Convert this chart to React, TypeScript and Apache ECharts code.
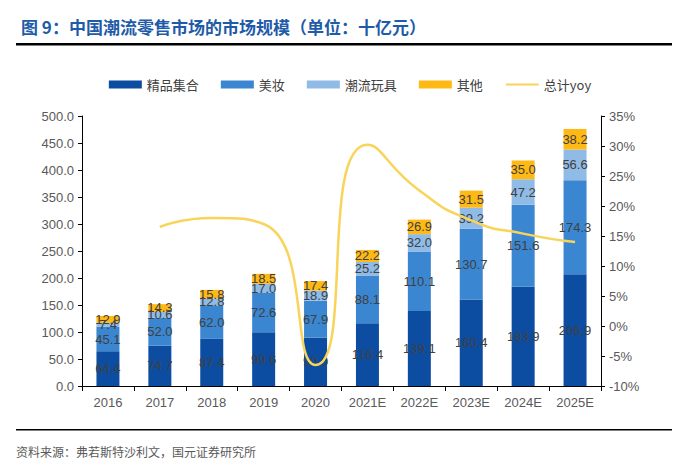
import React, { useEffect, useRef } from "react";
import * as echarts from "echarts";

const categories = ["2016", "2017", "2018", "2019", "2020", "2021E", "2022E", "2023E", "2024E", "2025E"];
const boutique = [64.4, 74.7, 87.4, 99.6, 90.0, 116.4, 139.1, 160.4, 183.9, 206.9];
const beauty = [45.1, 52.0, 62.0, 72.6, 67.9, 88.1, 110.1, 130.7, 151.6, 174.3];
const toys = [7.4, 10.6, 12.8, 17.0, 18.9, 25.2, 32.0, 39.2, 47.2, 56.6];
const others = [12.9, 14.3, 15.8, 18.5, 17.4, 22.2, 26.9, 31.5, 35.0, 38.2];
const yoy = [null, 16.5, 18.0, 17.0, -6.5, 30.2, 22.6, 17.6, 15.4, 14.0];

const labelColor = "#404040";

export default function App() {
  const ref = useRef<HTMLDivElement>(null);
  useEffect(() => {
    document.body.style.margin = "0";
    const chart = echarts.init(ref.current!, null, { renderer: "svg" });
    const barLabel = {
      show: true,
      position: "inside" as const,
      color: labelColor,
      fontSize: 13,
      fontFamily: "Arial, Liberation Sans, sans-serif",
      formatter: (p: any) => Number(p.value).toFixed(1),
    };
    const mkBar = (name: string, data: number[], color: string) => ({
      name,
      type: "bar",
      stack: "total",
      data,
      barWidth: 23,
      itemStyle: { color },
      label: barLabel,
    });
    chart.setOption({
      animation: false,
      backgroundColor: "#ffffff",
      title: {
        text: "图 9：中国潮流零售市场的市场规模（单位：十亿元）",
        left: 16,
        top: 13,
        textStyle: {
          color: "#1e5ba8",
          fontSize: 17,
          fontWeight: "bold",
          fontFamily: "Noto Sans CJK SC",
        },
      },
      graphic: [
        { type: "rect", shape: { x: 16, y: 43, width: 656, height: 2.5 }, style: { fill: "#000" } },
        { type: "rect", shape: { x: 16, y: 429, width: 656, height: 1.5 }, style: { fill: "#000" } },
        {
          type: "text",
          x: 16,
          y: 445,
          style: {
            text: "资料来源：弗若斯特沙利文，国元证券研究所",
            fill: "#595959",
            fontSize: 12,
            fontFamily: "Noto Sans CJK SC",
          },
        },
      ],
      legend: {
        top: 73,
        left: "center",
        itemWidth: 33,
        itemHeight: 8,
        itemGap: 22,
        textStyle: { color: "#404040", fontSize: 13, fontFamily: "Noto Sans CJK SC" },
        data: [
          { name: "精品集合", icon: "rect" },
          { name: "美妆", icon: "rect" },
          { name: "潮流玩具", icon: "rect" },
          { name: "其他", icon: "rect" },
          { name: "总计yoy", itemStyle: { opacity: 0 } },
        ],
      },
      grid: { left: 82, right: 99, top: 116, bottom: 86 },
      xAxis: {
        type: "category",
        data: categories,
        axisLine: { lineStyle: { color: "#000", width: 1 } },
        axisTick: { show: true, alignWithLabel: false, lineStyle: { color: "#000" } },
        axisLabel: { color: "#595959", fontSize: 13, margin: 10, fontFamily: "Arial, Liberation Sans, sans-serif" },
      },
      yAxis: [
        {
          type: "value",
          min: 0,
          max: 500,
          interval: 50,
          axisLine: { show: true, lineStyle: { color: "#000" } },
          axisTick: { show: true, inside: false, length: 4, lineStyle: { color: "#000" } },
          splitLine: { show: false },
          axisLabel: {
            color: "#595959",
            fontSize: 13,
            margin: 8,
            fontFamily: "Arial, Liberation Sans, sans-serif",
            formatter: (v: number) => v.toFixed(1),
          },
        },
        {
          type: "value",
          min: -10,
          max: 35,
          interval: 5,
          position: "right",
          axisLine: { show: true, lineStyle: { color: "#000" } },
          axisTick: { show: true, length: 4, lineStyle: { color: "#000" } },
          splitLine: { show: false },
          axisLabel: {
            color: "#595959",
            fontSize: 13,
            margin: 8,
            fontFamily: "Arial, Liberation Sans, sans-serif",
            formatter: (v: number) => Math.round(v) + "%",
          },
        },
      ],
      series: [
        mkBar("精品集合", boutique, "#0c4da2"),
        mkBar("美妆", beauty, "#3a86d0"),
        mkBar("潮流玩具", toys, "#8fbbe6"),
        mkBar("其他", others, "#ffb915"),
        {
          name: "总计yoy",
          type: "line",
          yAxisIndex: 1,
          data: yoy,
          smooth: 0.6,
          symbol: "none",
          connectNulls: false,
          lineStyle: { color: "#f8d45a", width: 2.5 },
          itemStyle: { color: "#f8d45a" },
          z: 5,
        },
      ],
    });
    return () => chart.dispose();
  }, []);
  return <div ref={ref} style={{ width: 700, height: 472 }} />;
}
